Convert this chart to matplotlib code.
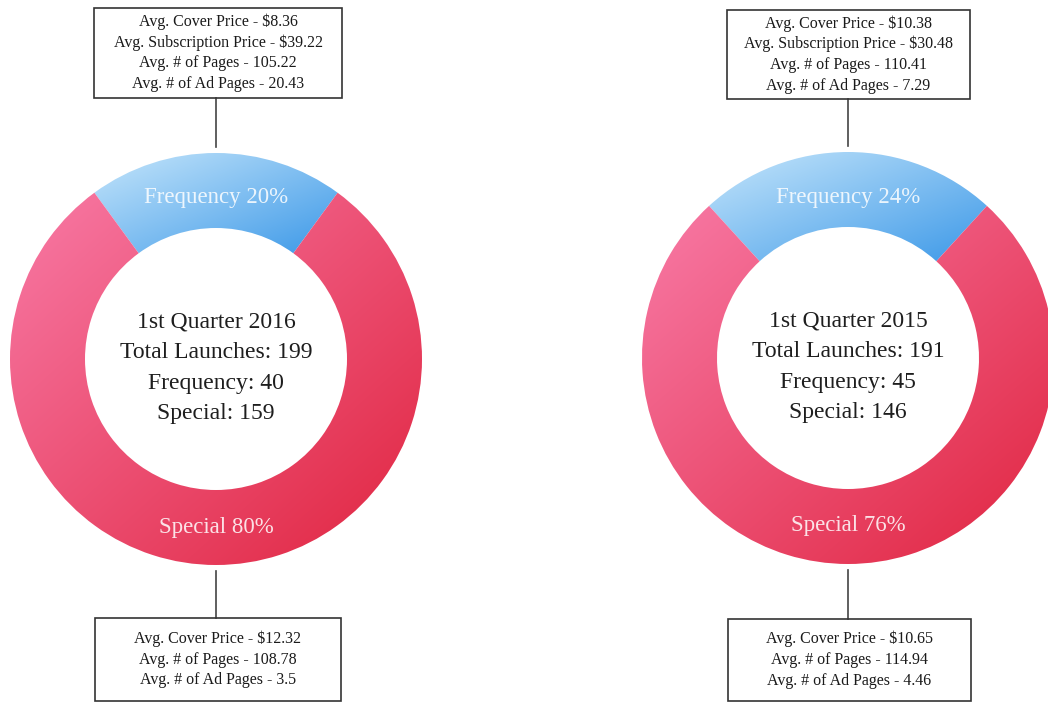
import numpy as np
import matplotlib.pyplot as plt
from matplotlib.colors import to_rgb
from matplotlib.patches import Rectangle

W, H = 1048, 702

# data
quarters = ["1st Quarter 2016", "1st Quarter 2015"]
frequency_counts = [40, 45]
special_counts = [159, 146]

freq_cover_price = [8.36, 10.38]
freq_subscription_price = [39.22, 30.48]
freq_pages = [105.22, 110.41]
freq_ad_pages = [20.43, 7.29]

special_cover_price = [12.32, 10.65]
special_pages = [108.78, 114.94]
special_ad_pages = [3.5, 4.46]

# layout (image pixel coords, y measured from top)
centers = [(216, 359), (848, 358)]
R_OUT = 206
R_IN = 131
top_boxes = [(94, 8, 342, 98), (727, 10, 970, 99)]
bottom_boxes = [(95, 618, 341, 701), (728, 619, 971, 701)]

SERIF = ["Liberation Serif", "DejaVu Serif"]
PINK = ("#f87aa6", "#e0243f")
BLUE = ("#c6e6fb", "#3d99e8")


def up(y):
    return H - y


def gradient(c0, c1, n=256):
    a, b = np.array(to_rgb(c0)), np.array(to_rgb(c1))
    i, j = np.mgrid[0:n, 0:n] / (n - 1)
    t = ((i + j) / 2)[..., None]
    return a * (1 - t) + b * t


def fill_gradient(ax, wedge, colors):
    wedge.set_facecolor("none")
    bb = wedge.get_path().get_extents()
    im = ax.imshow(gradient(*colors), extent=(bb.x0, bb.x1, bb.y0, bb.y1),
                   origin="upper", interpolation="bilinear", zorder=1)
    im.set_clip_path(wedge)


def stat_box(ax, box, lines, spacing):
    x0, y0, x1, y1 = box
    ax.add_patch(Rectangle((x0, up(y1)), x1 - x0, y1 - y0, fill=False,
                           edgecolor="#333333", linewidth=1.2, zorder=3))
    mid = (y0 + y1) / 2
    n = len(lines)
    for k, line in enumerate(lines):
        ax.text((x0 + x1) / 2, up(mid + (k - (n - 1) / 2) * spacing), line,
                ha="center", va="center", fontsize=11.5, color="#1a1a1a",
                family=SERIF, parse_math=False, zorder=4)


fig = plt.figure(figsize=(W / 100, H / 100), dpi=100)
ax = fig.add_axes([0, 0, 1, 1])

for idx in range(2):
    cx, cy = centers[idx]
    freq, spec = frequency_counts[idx], special_counts[idx]
    total = freq + spec
    wedges, _ = ax.pie([freq, spec], center=(cx, up(cy)), radius=R_OUT,
                       startangle=90 - 180 * freq / total, counterclock=True,
                       wedgeprops=dict(width=R_OUT - R_IN, edgecolor="none"))
    fill_gradient(ax, wedges[0], BLUE)
    fill_gradient(ax, wedges[1], PINK)

    ax.text(cx, up(cy) + 161, f"Frequency {round(100 * freq / total)}%",
            ha="center", va="center", fontsize=16.5, color="white", alpha=0.85,
            family=SERIF, zorder=4)
    ax.text(cx, up(cy) - 168, f"Special {round(100 * spec / total)}%",
            ha="center", va="center", fontsize=16.5, color="white", alpha=0.85,
            family=SERIF, zorder=4)

    center_lines = [quarters[idx], f"Total Launches: {total}",
                    f"Frequency: {freq}", f"Special: {spec}"]
    for k, line in enumerate(center_lines):
        ax.text(cx, up(cy + 9 + (k - 1.5) * 30.5), line, ha="center",
                va="center", fontsize=17, color="#1e1e1e", family=SERIF,
                zorder=4)

    top_lines = [f"Avg. Cover Price - ${freq_cover_price[idx]:.2f}",
                 f"Avg. Subscription Price - ${freq_subscription_price[idx]:.2f}",
                 f"Avg. # of Pages - {freq_pages[idx]}",
                 f"Avg. # of Ad Pages - {freq_ad_pages[idx]}"]
    bottom_lines = [f"Avg. Cover Price - ${special_cover_price[idx]:.2f}",
                    f"Avg. # of Pages - {special_pages[idx]}",
                    f"Avg. # of Ad Pages - {special_ad_pages[idx]}"]
    stat_box(ax, top_boxes[idx], top_lines, 20.7)
    stat_box(ax, bottom_boxes[idx], bottom_lines, 21)

    # connectors
    ax.plot([cx, cx], [up(top_boxes[idx][3]), up(cy - R_OUT - 6)],
            color="#444444", lw=1.2, zorder=2)
    ax.plot([cx, cx], [up(cy + R_OUT + 6), up(bottom_boxes[idx][1])],
            color="#444444", lw=1.2, zorder=2)

ax.set_xlim(0, W)
ax.set_ylim(0, H)
ax.set_aspect("equal")
ax.axis("off")

fig.savefig("out.png", dpi=100, facecolor="white")
